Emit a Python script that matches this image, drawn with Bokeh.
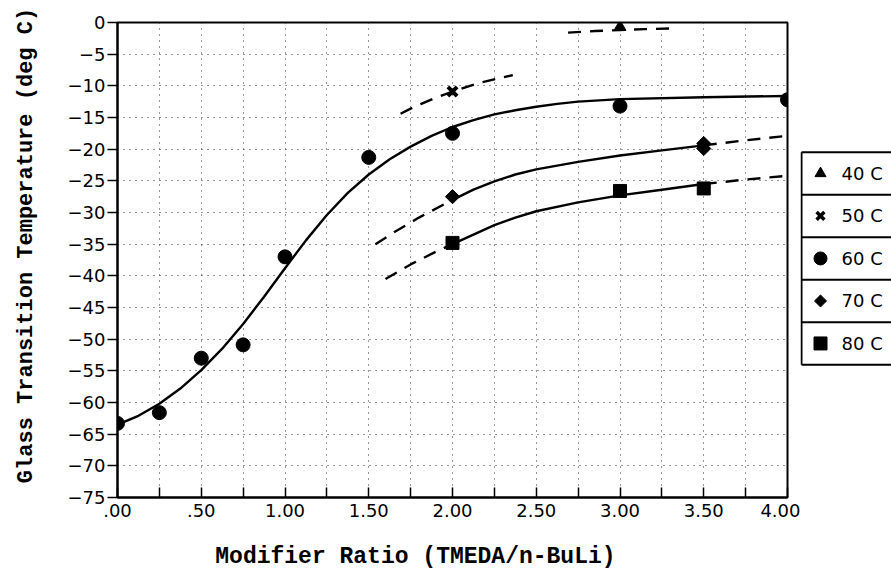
import math
from bokeh.plotting import figure
from bokeh.models import Range1d, FixedTicker
from bokeh.layouts import row, column
from bokeh.embed import file_html
from bokeh.resources import INLINE
from bokeh.core.properties import value

# ---------------- data ----------------
# measured Tg points, by polymerization temperature
x40 = [3.0]
y40 = [-0.7]
x50 = [2.0]
y50 = [-10.9]
x60 = [0.0, 0.25, 0.5, 0.75, 1.0, 1.5, 2.0, 3.0, 4.0]
y60 = [-63.3, -61.6, -53.0, -50.9, -37.0, -21.3, -17.5, -13.2, -12.2]
x70 = [2.0, 3.5, 3.5]
y70 = [-27.5, -19.1, -19.9]
x80 = [2.0, 3.0, 3.5]
y80 = [-34.8, -26.6, -26.2]

# fitted curves (solid) and extrapolations (dashed)
fit40_x = [2.69, 2.85, 3.0, 3.15, 3.3]
fit40_y = [-1.6, -1.35, -1.2, -1.05, -0.95]
fit50_x = [1.69, 1.75, 1.81, 1.88, 2.0, 2.15, 2.36]
fit50_y = [-14.4, -13.6, -12.9, -12.1, -10.9, -9.6, -8.3]
fit60_x = [0.0, 0.125, 0.25, 0.375, 0.5, 0.625, 0.75, 0.875, 1.0, 1.125,
           1.25, 1.375, 1.5, 1.625, 1.75, 1.875, 2.0, 2.125, 2.25, 2.375,
           2.5, 2.625, 2.75, 2.875, 3.0, 3.5, 4.0]
fit60_y = [-63.5, -62.1, -60.2, -57.8, -54.9, -51.5, -47.6, -43.3, -38.8, -34.4,
           -30.4, -26.9, -24.0, -21.6, -19.6, -17.9, -16.5, -15.4, -14.5, -13.85,
           -13.3, -12.85, -12.5, -12.3, -12.1, -11.8, -11.6]
fit70a_x = [1.54, 1.64, 1.8, 2.0]
fit70a_y = [-35.0, -33.3, -30.8, -28.0]
fit70b_x = [2.0, 2.125, 2.25, 2.375, 2.5, 2.75, 3.0, 3.25, 3.5]
fit70b_y = [-28.0, -26.4, -25.1, -24.0, -23.2, -22.0, -21.0, -20.2, -19.4]
fit70c_x = [3.5, 3.75, 4.0]
fit70c_y = [-19.4, -18.6, -17.9]
fit80a_x = [1.6, 1.75, 1.9, 2.0]
fit80a_y = [-40.5, -38.2, -36.2, -35.0]
fit80b_x = [2.0, 2.125, 2.25, 2.375, 2.5, 2.75, 3.0, 3.25, 3.5]
fit80b_y = [-35.0, -33.5, -32.0, -30.8, -29.8, -28.4, -27.3, -26.4, -25.5]
fit80c_x = [3.5, 3.75, 4.0]
fit80c_y = [-25.5, -24.8, -24.2]

# axes
x_ticks = [0.0, 0.25, 0.5, 0.75, 1.0, 1.25, 1.5, 1.75, 2.0, 2.25, 2.5, 2.75, 3.0, 3.25, 3.5, 3.75, 4.0]
x_tick_labels = [".00", "", ".50", "", "1.00", "", "1.50", "", "2.00", "", "2.50", "", "3.00", "", "3.50", "", "4.00"]
y_ticks = [0, -5, -10, -15, -20, -25, -30, -35, -40, -45, -50, -55, -60, -65, -70, -75]
y_tick_labels = ["0", "\u22125", "\u221210", "\u221215", "\u221220", "\u221225", "\u221230", "\u221235",
                 "\u221240", "\u221245", "\u221250", "\u221255", "\u221260", "\u221265", "\u221270", "\u221275"]
x_title = "Modifier Ratio (TMEDA/n-BuLi)"
y_title = "Glass Transition Temperature (deg C)"

legend_labels = ["40 C", "50 C", "60 C", "70 C", "80 C"]
legend_markers = ["triangle", "x", "circle", "diamond", "square"]

tick_font = "DejaVu Sans"
title_font = "Liberation Mono"
PAGE_H = 584
YLAB_W = 50
MAIN_W = 750
MAIN_H = 532
LEG_W = 91


def blank_fig(w, h):
    f = figure(width=w, height=h, x_range=Range1d(0, w), y_range=Range1d(0, h),
               toolbar_location=None, output_backend="svg",
               x_axis_location=None, y_axis_location=None,
               min_border_left=0, min_border_right=0, min_border_top=0, min_border_bottom=0)
    f.grid.visible = False
    f.outline_line_color = None
    f.background_fill_color = "white"
    f.border_fill_color = "white"
    return f


# ---------------- main figure ----------------
p = figure(width=MAIN_W, height=MAIN_H, x_range=Range1d(0, 4), y_range=Range1d(-75, 0),
           toolbar_location=None, output_backend="svg",
           min_border_left=117 - YLAB_W, min_border_right=13, min_border_top=22,
           min_border_bottom=MAIN_H - 22 - 475)
p.background_fill_color = "white"
p.border_fill_color = "white"
p.outline_line_color = "black"
p.outline_line_width = 2

p.xaxis.ticker = FixedTicker(ticks=x_ticks)
p.xaxis.major_label_overrides = {t: l for t, l in zip(x_ticks, x_tick_labels)}
p.xaxis.major_tick_in = 10
p.xaxis.major_tick_out = 0
p.xaxis.minor_tick_line_color = None
p.xaxis.major_label_standoff = 6
p.yaxis.ticker = FixedTicker(ticks=y_ticks)
p.yaxis.major_label_overrides = {t: l for t, l in zip(y_ticks, y_tick_labels)}
p.yaxis.major_tick_in = 0
p.yaxis.major_tick_out = 10
p.yaxis.minor_tick_line_color = None
p.yaxis.major_label_standoff = 2
for ax in (p.xaxis[0], p.yaxis[0]):
    ax.axis_line_width = 2
    ax.axis_line_color = "black"
    ax.major_tick_line_width = 1.5
    ax.major_tick_line_color = "black"
    ax.major_label_text_font = tick_font
    ax.major_label_text_font_size = "18px"
    ax.major_label_text_color = "black"

p.xgrid.ticker = FixedTicker(ticks=x_ticks)
p.ygrid.ticker = FixedTicker(ticks=y_ticks)
for g in (p.xgrid[0], p.ygrid[0]):
    g.grid_line_color = "#333333"
    g.grid_line_dash = "1 5"
    g.grid_line_width = 1

LW = 2.4
DASH = "13 9"
p.line(fit60_x, fit60_y, line_color="black", line_width=LW)
p.line(fit40_x, fit40_y, line_color="black", line_width=LW, line_dash=DASH)
p.line(fit50_x, fit50_y, line_color="black", line_width=LW, line_dash=DASH)
p.line(fit70a_x, fit70a_y, line_color="black", line_width=LW, line_dash=DASH)
p.line(fit70b_x, fit70b_y, line_color="black", line_width=LW)
p.line(fit70c_x, fit70c_y, line_color="black", line_width=LW, line_dash=DASH)
p.line(fit80a_x, fit80a_y, line_color="black", line_width=LW, line_dash=DASH)
p.line(fit80b_x, fit80b_y, line_color="black", line_width=LW)
p.line(fit80c_x, fit80c_y, line_color="black", line_width=LW, line_dash=DASH)

p.scatter(x40, y40, marker="triangle", size=12, color="black")
p.scatter(x50, y50, marker="x", size=13, line_color="black", line_width=4)
p.scatter(x60, y60, marker="circle", size=14, color="black")
p.scatter(x70, y70, marker="square", size=10, angle=math.pi / 4, color="black")
p.scatter(x80, y80, marker="square", size=13, color="black")

# ---------------- axis titles (own strips, for exact placement) ----------------
ylab = blank_fig(YLAB_W, PAGE_H)
ylab.text([26], [PAGE_H - 245], text=[y_title], angle=math.pi / 2,
          text_font=value(title_font), text_font_size="22px", text_font_style="bold",
          text_align="center", text_baseline="middle", text_color="black")

XLAB_H = PAGE_H - MAIN_H
xlab = blank_fig(MAIN_W, XLAB_H)
xlab.text([333.5], [PAGE_H - 556], text=[x_title],
          text_font=value(title_font), text_font_size="23px", text_font_style="bold",
          text_align="center", text_baseline="middle", text_color="black")

# ---------------- legend (drawn as its own small figure) ----------------
leg = blank_fig(LEG_W, PAGE_H)
box_top = 151.7
row_h = 42.5
n = len(legend_labels)
sep_y = [PAGE_H - (box_top + i * row_h) for i in range(n + 1)]
leg.multi_line([[1, LEG_W + 5] for _ in sep_y], [[yy, yy] for yy in sep_y],
               line_color="black", line_width=2)
leg.line([1, 1], [sep_y[0], sep_y[-1]], line_color="black", line_width=2)
centers = [PAGE_H - (box_top + (i + 0.5) * row_h) for i in range(n)]
for lab, mk, cy in zip(legend_labels, legend_markers, centers):
    if mk == "x":
        leg.scatter([20], [cy], marker="x", size=11, line_color="black", line_width=3.5)
    elif mk == "diamond":
        leg.scatter([20], [cy], marker="square", size=8.5, angle=math.pi / 4, color="black")
    elif mk == "triangle":
        leg.scatter([20], [cy], marker="triangle", size=11, color="black")
    else:
        leg.scatter([20], [cy], marker=mk, size=13, color="black")
leg.text([41] * n, centers, text=legend_labels, text_font=value(tick_font),
         text_font_size="18px", text_baseline="middle", text_align="left", text_color="black")

layout = row(ylab, column(p, xlab), leg)
open("out.html", "w").write(file_html(layout, INLINE))
